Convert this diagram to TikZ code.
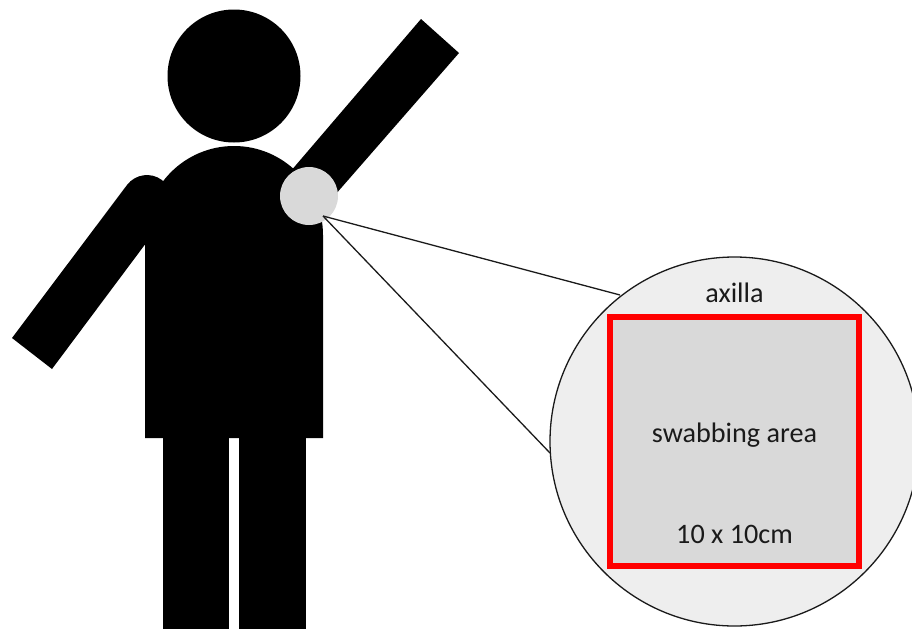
\documentclass[tikz,border=0pt]{standalone}
\usepackage{fontspec}
\setmainfont{Carlito}
\usetikzlibrary{positioning,calc}
\definecolor{ink}{HTML}{1A1A1A}
\definecolor{spotgray}{HTML}{D9D9D9}
\definecolor{lensgray}{HTML}{EEEEEE}
\definecolor{swabred}{HTML}{FF0000}
\tikzset{
  body/.style={fill=black, draw=none},
  spot/.style={circle, fill=spotgray, draw=none, inner sep=0pt, outer sep=0pt, minimum size=58pt},
  lens/.style={circle, fill=lensgray, draw=ink, line width=1.3pt, inner sep=0pt, outer sep=0pt, minimum size=369pt},
  area/.style={fill=spotgray, draw=swabred, line width=5.5pt, inner sep=0pt, outer sep=0pt, minimum size=249pt},
  lab/.style={font=\fontsize{28.2}{32}\selectfont, text=ink, inner sep=0pt},
  lead/.style={draw=ink, line width=1.3pt},
}
\begin{document}
\begin{tikzpicture}[x=1pt, y=-1pt]
  \useasboundingbox (0,0) rectangle (912,629);
  % figure
  \node[circle, body, inner sep=0pt, minimum size=133pt] (head) at (234,76) {};
  \fill[body] (145,438) -- (145,235) arc[start angle=180, end angle=360, radius=89] -- (323,438) -- cycle;
  \foreach \x/\w in {163/66, 239/66.5} {
    \fill[body] (\x,430) rectangle ++(\w,199);
  }
  \fill[body] (12,338) -- (127,185) arc[start angle=217, end angle=397, radius=25] -- (52,369) -- cycle;
  \fill[body] (421,19) -- (459,53) -- (335,195) -- (290,172) -- cycle;
  \node[spot] (axillaspot) at (309,196) {};
  % zoom
  \coordinate (spottip) at (323,216);
  \node[lens] (lenscircle) at (734.5,441.5) {};
  \coordinate (leadtop) at (620,295);
  \coordinate (leadlow) at (550,453);
  \draw[lead] (spottip) -- (leadtop);
  \draw[lead] (spottip) -- (leadlow);
  \node[area] (swabarea) at (734.5,441.5) {};
  \node[lab] (axillalab) at (734.5,292.5) {axilla};
  \node[lab] (arealab) at (734.5,435) {swabbing area};
  \node[lab] (sizelab) at (734.5,534.5) {10 x 10cm};
\end{tikzpicture}
\end{document}
